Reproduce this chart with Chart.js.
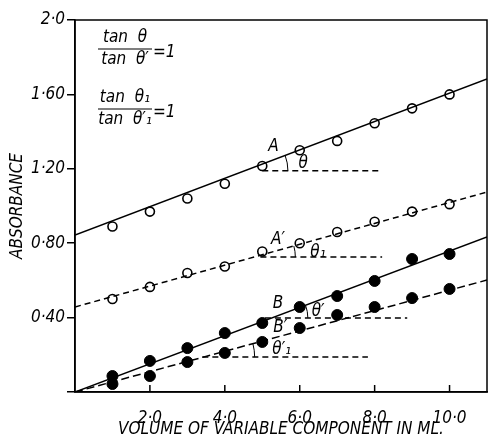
<!DOCTYPE html>
<html>
<head>
<meta charset="utf-8">
<script src="https://cdn.jsdelivr.net/npm/chart.js@4.4.1/dist/chart.umd.min.js"></script>
<style>
html, body { margin: 0; padding: 0; background: #fff; }
#wrap { width: 488px; height: 442px; position: relative; }
</style>
</head>
<body>
<div id="wrap"><canvas id="absorb-chart"></canvas></div>
<script>
// measured points, volume in ml
var volumes = [1, 2, 3, 4, 5, 6, 7, 8, 9, 10];
var curveA  = [0.89, 0.97, 1.04, 1.12, 1.215, 1.30, 1.35, 1.445, 1.525, 1.60];
var curveA1 = [0.50, 0.565, 0.64, 0.675, 0.755, 0.80, 0.86, 0.915, 0.97, 1.01];
var curveB  = [0.086, 0.167, 0.236, 0.317, 0.371, 0.457, 0.516, 0.597, 0.715, 0.742];
var curveB1 = [0.043, 0.086, 0.161, 0.21, 0.269, 0.344, 0.414, 0.457, 0.505, 0.554];

// straight lines drawn through each set (value at x = 0 and x = 11)
var lineX   = [0, 11];
var lineA   = [0.844, 1.683];
var lineA1  = [0.457, 1.075];
var lineB   = [0, 0.833];
var lineB1  = [0, 0.602];

// dashed horizontals used for the angles
var horizA  = { x: [5.0, 8.1], y: 1.19 };
var horizA1 = { x: [4.95, 8.2], y: 0.726 };
var horizB  = { x: [5.07, 8.87], y: 0.398 };
var horizB1 = { x: [3.4, 7.82], y: 0.188 };

var xTicks = [0, 2, 4, 6, 8, 10];
var xTickLabels = ['', '2·0', '4·0', '6·0', '8·0', '10·0'];
var yTicks = [0, 0.4, 0.8, 1.2, 1.6, 2.0];
var yTickLabels = ['', '0·40', '0·80', '1·20', '1·60', '2·0'];

var curveLabels = ['A', 'θ', 'A′', 'θ₁', 'B', 'θ′', 'B′', 'θ′₁'];
var labelX = [5.3, 6.09, 5.42, 6.49, 5.42, 6.49, 5.48, 5.52];
var labelY = [1.317, 1.23, 0.817, 0.747, 0.478, 0.43, 0.344, 0.226];

var FONT = "'DejaVu Sans Condensed', 'Liberation Sans Narrow', sans-serif";

function pts(xs, ys) {
    return xs.map(function (x, i) { return { x: x, y: ys[i] }; });
}
function hline(h) {
    return [{ x: h.x[0], y: h.y }, { x: h.x[1], y: h.y }];
}

function lineSet(data, dash) {
    return {
        type: 'line', data: data, borderColor: '#000', borderWidth: 1.5,
        borderDash: dash || [], pointRadius: 0, fill: false, showLine: true
    };
}

var decorations = {
    id: 'decorations',
    afterDatasetsDraw: function (chart) {
        var ctx = chart.ctx, a = chart.chartArea;
        var xs = chart.scales.x, ys = chart.scales.y;
        ctx.save();
        ctx.strokeStyle = '#000';
        ctx.lineWidth = 1.5;
        ctx.strokeRect(a.left, a.top, a.right - a.left, a.bottom - a.top);

        // inward tick marks on the volume axis
        xTicks.forEach(function (v) {
            if (v === 0) return;
            var px = xs.getPixelForValue(v);
            ctx.beginPath();
            ctx.moveTo(px, a.bottom);
            ctx.lineTo(px, a.bottom - 7);
            ctx.stroke();
        });

        // small angle arcs
        ctx.lineWidth = 1;
        [[lineA, horizA.y, 43], [lineA1, horizA1.y, 41], [lineB, horizB.y, 36], [lineB1, horizB1.y, 51]].forEach(function (d) {
            var l = d[0];
            var slope = (l[1] - l[0]) / (lineX[1] - lineX[0]);
            var x0 = (d[1] - l[0]) / slope;
            var cx = xs.getPixelForValue(x0), cy = ys.getPixelForValue(d[1]);
            var ang = Math.atan2(ys.getPixelForValue(d[1]) - ys.getPixelForValue(d[1] + slope), xs.getPixelForValue(x0 + 1) - cx);
            ctx.beginPath();
            ctx.arc(cx, cy, d[2], -ang, 0);
            ctx.stroke();
        });

        ctx.fillStyle = '#000';
        ctx.textAlign = 'center';
        ctx.textBaseline = 'middle';
        ctx.font = 'italic 17px ' + FONT;
        curveLabels.forEach(function (t, i) {
            ctx.fillText(t, xs.getPixelForValue(labelX[i]), ys.getPixelForValue(labelY[i]));
        });

        // ratio text in the corner
        ctx.font = 'italic 17px ' + FONT;
        ctx.lineWidth = 1.2;
        [[38, 'tan  θ', 'tan  θ′'], [98, 'tan  θ₁', 'tan  θ′₁']].forEach(function (f) {
            var cx = 125, top = f[0];
            ctx.textAlign = 'center';
            ctx.fillText(f[1], cx, top);
            ctx.fillText(f[2], cx, top + 22);
            ctx.beginPath();
            ctx.moveTo(98, top + 11);
            ctx.lineTo(152, top + 11);
            ctx.stroke();
            ctx.textAlign = 'left';
            ctx.fillText('=1', 153, top + 15);
        });
        ctx.restore();
    }
};

new Chart(document.getElementById('absorb-chart'), {
    type: 'scatter',
    data: {
        datasets: [
            lineSet(pts(lineX, lineA)),
            lineSet(pts(lineX, lineA1), [6, 4]),
            lineSet(pts(lineX, lineB)),
            lineSet(pts(lineX, lineB1), [8, 4]),
            lineSet(hline(horizA), [6, 4]),
            lineSet(hline(horizA1), [6, 4]),
            lineSet(hline(horizB), [6, 4]),
            lineSet(hline(horizB1), [6, 4]),
            {
                data: pts(volumes, curveA), pointStyle: 'circle', pointRadius: 4.5,
                backgroundColor: '#fff', borderColor: '#000', borderWidth: 1.6
            },
            {
                data: pts(volumes, curveA1), pointStyle: 'circle', pointRadius: 4.5,
                backgroundColor: '#fff', borderColor: '#000', borderWidth: 1.6
            },
            {
                data: pts(volumes, curveB), pointStyle: 'circle', pointRadius: 5.5,
                backgroundColor: '#000', borderColor: '#000', borderWidth: 1
            },
            {
                data: pts(volumes, curveB1), pointStyle: 'circle', pointRadius: 5.5,
                backgroundColor: '#000', borderColor: '#000', borderWidth: 1
            }
        ]
    },
    options: {
        responsive: true,
        maintainAspectRatio: false,
        animation: false,
        layout: { autoPadding: false, padding: { top: 20, right: 1, left: 0, bottom: 0 } },
        plugins: { legend: { display: false }, tooltip: { enabled: false } },
        scales: {
            x: {
                type: 'linear', min: 0, max: 11,
                afterBuildTicks: function (s) { s.ticks = xTicks.map(function (v) { return { value: v }; }); },
                afterFit: function (s) { s.height = 50; s.paddingLeft = 0; s.paddingRight = 0; },
                grid: { display: false },
                border: { display: true, color: '#000', width: 1.5 },
                ticks: {
                    color: '#000', padding: 8, maxRotation: 0,
                    font: { family: FONT, size: 17, style: 'italic' },
                    callback: function (v, i) { return xTickLabels[i]; }
                },
                title: {
                    display: true, text: 'VOLUME OF VARIABLE COMPONENT IN ML.', color: '#000',
                    padding: { top: 0, bottom: 2 },
                    font: { family: FONT, size: 17, style: 'italic' }
                }
            },
            y: {
                type: 'linear', min: 0, max: 2.0,
                afterBuildTicks: function (s) { s.ticks = yTicks.map(function (v) { return { value: v }; }); },
                afterFit: function (s) { s.width = 75; s.paddingTop = 0; s.paddingBottom = 0; },
                grid: { drawOnChartArea: false, drawTicks: true, tickLength: 8, color: '#000', lineWidth: 1.5 },
                border: { display: true, color: '#000', width: 1.5 },
                ticks: {
                    color: '#000', padding: 2,
                    font: { family: FONT, size: 17, style: 'italic' },
                    callback: function (v, i) { return yTickLabels[i]; }
                },
                title: {
                    display: true, text: 'ABSORBANCE', color: '#000',
                    padding: { top: 7, bottom: 0 },
                    font: { family: FONT, size: 17, style: 'italic' }
                }
            }
        }
    },
    plugins: [decorations]
});
</script>
</body>
</html>
